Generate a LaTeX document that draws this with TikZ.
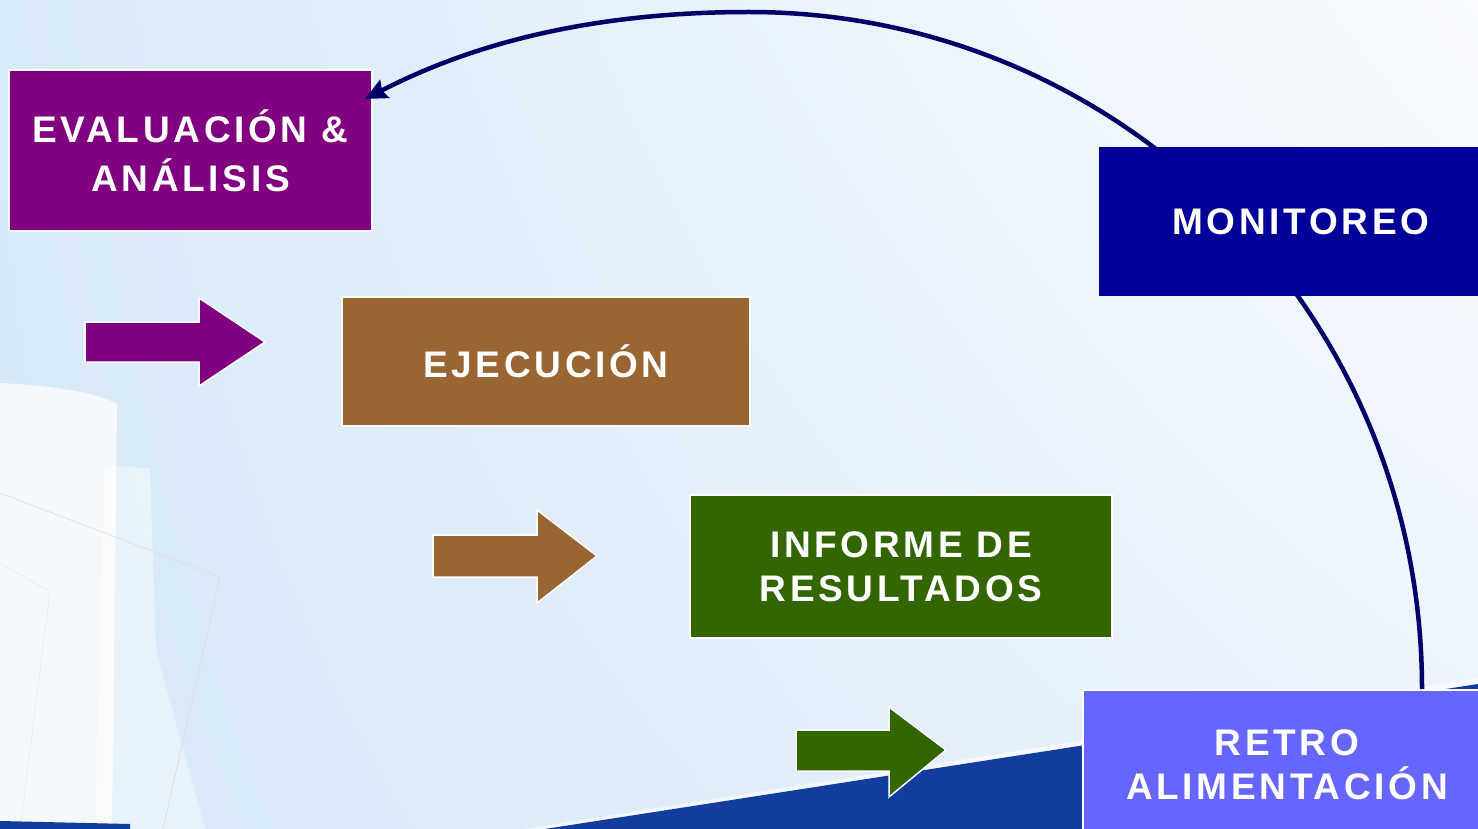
\documentclass[tikz,border=0pt]{standalone}
\usepackage{fontspec}
\setmainfont{Liberation Sans}
\newfontfamily\boxfont[LetterSpace=10]{Liberation Sans}
\usetikzlibrary{arrows.meta,calc,shadings}
\definecolor{cPurple}{HTML}{800080}
\definecolor{cBrown}{HTML}{996633}
\definecolor{cGreen}{HTML}{336600}
\definecolor{cNavy}{HTML}{000099}
\definecolor{cRetro}{HTML}{6666FF}
\definecolor{cCurve}{HTML}{000066}
\definecolor{cWedge}{HTML}{123D9E}
\definecolor{bgUL}{HTML}{D9EAF8}
\definecolor{bgUR}{HTML}{F9FBFE}
\definecolor{bgLL}{HTML}{D7E9F8}
\definecolor{bgLR}{HTML}{EAF2FB}
\begin{document}
\begin{tikzpicture}[x=1pt,y=-1pt,
  box/.style={draw=white, line width=2pt, inner sep=0pt, text=white, align=center,
    font=\boxfont\bfseries\fontsize{37}{44}\selectfont},
  blockarrow/.style={draw=white, line width=1.5pt, line join=miter},
  curve/.style={draw=cCurve, line width=4.5pt}]
% background
\useasboundingbox (0,0) rectangle (1478,829);
\shade[upper left=bgUL, upper right=bgUR, lower left=bgLL, lower right=bgLR] (0,0) rectangle (1478,829);
% decorative papers (left)
\fill[white, opacity=0.75] (0,383) .. controls (60,386) and (100,394) .. (117,404) -- (112,829) -- (0,829) -- cycle;
\fill[white, opacity=0.4] (104,466) -- (150,468) -- (156,650) -- (205,829) -- (95,829) -- cycle;
\draw[gray!25, line width=0.8pt] (0,493) -- (220,577) -- (163,829);
\draw[gray!15, line width=0.8pt] (0,563) -- (50,592) -- (20,829);
% dark blue wedge (bottom right)
\fill[white, opacity=0.6] (525,829) -- (1478,678) -- (1478,686) -- (545,829) -- cycle;
\fill[cWedge] (545,829) -- (1478,684) -- (1478,829) -- cycle;
\fill[cWedge] (0,821) -- (130,824) -- (130,829) -- (0,829) -- cycle;
% boxes
\node[box, fill=cPurple, minimum width=363, minimum height=161,
  font=\boxfont\bfseries\fontsize{37}{49}\selectfont] (evalu) at (190.5,150.5) {EVALUACIÓN \&\\ANÁLISIS};
\node[box, fill=cBrown, minimum width=408, minimum height=129] (ejec) at (546,361.5) {EJECUCIÓN};
\node[box, fill=cGreen, minimum width=422, minimum height=143] (inf) at (901,566.5) {INFORME DE\\RESULTADOS};
\node[box, fill=cRetro, minimum width=408, minimum height=150] (retro) at (1287,765) {RETRO\\ALIMENTACIÓN};
% feedback curve (passes behind MONITOREO)
\draw[curve, -{Stealth[length=22pt,width=20pt,inset=3pt]}]
  ([xshift=135pt]retro.north) .. controls (1422,313) and (1121,12) .. (749,12)
  .. controls (560,12) and (445,58) .. ([shift={(-8pt,-30pt)}]evalu.north east);
\node[box, draw=none, fill=cNavy, minimum width=404, minimum height=149] (moni) at (1301,221.5) {MONITOREO};
% block arrows
\path[blockarrow, fill=cPurple] (85,322) -- (199,322) -- (199,298) -- (265,342) -- (199,386) -- (199,362) -- (85,362) -- cycle;
\path[blockarrow, fill=cBrown] (433,535) -- (537,535) -- (537,510) -- (597,556) -- (537,603) -- (537,577) -- (433,577) -- cycle;
\path[blockarrow, fill=cGreen] (796,730) -- (889,730) -- (889,707) -- (946,750) -- (889,797) -- (889,771) -- (796,771) -- cycle;
\end{tikzpicture}
\end{document}
